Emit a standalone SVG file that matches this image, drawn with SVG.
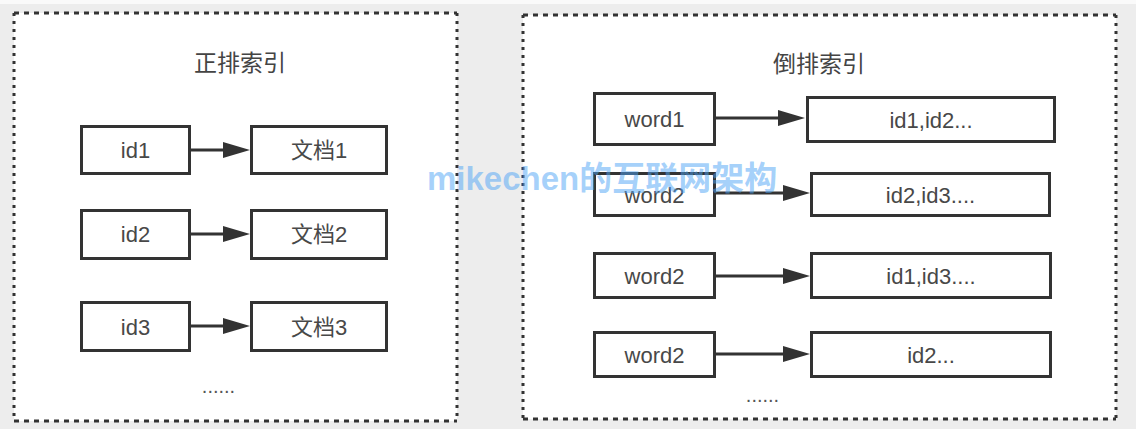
<svg xmlns="http://www.w3.org/2000/svg" width="1136" height="429" viewBox="0 0 1136 429">
<style>
.bg{fill:#ededed}
.panel{fill:#ffffff}
.hb{fill:none;stroke:#333;stroke-width:3;stroke-dasharray:5 5}
.vb{fill:none;stroke:#333;stroke-width:3;stroke-dasharray:3 5}
.box{fill:#ffffff;stroke:#333;stroke-width:3}
.lbl{font-family:"Liberation Sans","Noto Sans CJK SC",sans-serif;font-size:22px;fill:#484848;text-anchor:middle}
.title{font-family:"Liberation Sans","Noto Sans CJK SC",sans-serif;font-size:23px;fill:#444;text-anchor:middle}
.dots{font-family:"Liberation Sans",sans-serif;font-size:20px;fill:#555;text-anchor:middle}
.edge{stroke:#333;stroke-width:3;fill:none}
.wm{font-family:"Liberation Sans","Noto Sans CJK SC",sans-serif;font-size:33px;font-weight:bold;fill:#4da3f5;fill-opacity:0.5}
</style>
<defs>
<marker id="ah" markerUnits="userSpaceOnUse" markerWidth="28" markerHeight="18" refX="17" refY="8" orient="auto">
<path d="M0,0 L27,8 L0,16 z" fill="#333"/>
</marker>
</defs>
<rect class="bg" x="0" y="0" width="1136" height="429"/>
<rect x="0" y="0" width="1136" height="4" fill="#fafafa"/>

<g id="panel-forward">
<rect class="panel" x="14" y="13" width="443" height="408"/>
<path class="hb" d="M14,13 H457 M14,421 H457"/>
<path class="vb" d="M14,13 V421 M457,13 V421"/>
<text class="title" x="240" y="71">正排索引</text>
<text class="dots" x="218.5" y="393">......</text>
</g>

<g id="panel-inverted">
<rect class="panel" x="523" y="15" width="593" height="404"/>
<path class="hb" d="M523,15 H1116 M523,419 H1116"/>
<path class="vb" d="M523,15 V419 M1116,15 V419"/>
<text class="title" x="819" y="72">倒排索引</text>
<text class="dots" x="762.5" y="402">......</text>
</g>

<g id="connectors">
<line class="edge" x1="191" y1="150" x2="240" y2="150" marker-end="url(#ah)"/>
<line class="edge" x1="191" y1="234" x2="240" y2="234" marker-end="url(#ah)"/>
<line class="edge" x1="191" y1="326" x2="240" y2="326" marker-end="url(#ah)"/>
<line class="edge" x1="716" y1="118" x2="795" y2="118" marker-end="url(#ah)"/>
<line class="edge" x1="716" y1="193" x2="800" y2="193" marker-end="url(#ah)"/>
<line class="edge" x1="716" y1="276" x2="800" y2="276" marker-end="url(#ah)"/>
<line class="edge" x1="716" y1="354" x2="800" y2="354" marker-end="url(#ah)"/>
</g>

<g id="n-id1"><rect class="box" x="81.5" y="126.5" width="108" height="47"/><text class="lbl" x="135.5" y="158">id1</text></g>
<g id="n-doc1"><rect class="box" x="251.5" y="126.5" width="135" height="47"/><text class="lbl" x="319" y="158">文档1</text></g>
<g id="n-id2"><rect class="box" x="81.5" y="210.5" width="108" height="48"/><text class="lbl" x="135.5" y="242">id2</text></g>
<g id="n-doc2"><rect class="box" x="251.5" y="210.5" width="135" height="48"/><text class="lbl" x="319" y="242">文档2</text></g>
<g id="n-id3"><rect class="box" x="81.5" y="302.5" width="108" height="48"/><text class="lbl" x="135.5" y="334.5">id3</text></g>
<g id="n-doc3"><rect class="box" x="251.5" y="302.5" width="135" height="48"/><text class="lbl" x="319" y="334.5">文档3</text></g>

<g id="n-word1"><rect class="box" x="594.5" y="93.5" width="120" height="51"/><text class="lbl" x="654.5" y="127">word1</text></g>
<g id="n-list1"><rect class="box" x="807.5" y="97.5" width="247" height="44"/><text class="lbl" x="931" y="128">id1,id2...</text></g>
<g id="n-word2a"><rect class="box" x="594.5" y="173.5" width="120" height="42"/><text class="lbl" x="654.5" y="203">word2</text></g>
<g id="n-list2"><rect class="box" x="811.5" y="173.5" width="238" height="42"/><text class="lbl" x="930.5" y="203">id2,id3....</text></g>
<g id="n-word2b"><rect class="box" x="594.5" y="253.5" width="120" height="44"/><text class="lbl" x="654.5" y="284">word2</text></g>
<g id="n-list3"><rect class="box" x="811.5" y="253.5" width="239" height="44"/><text class="lbl" x="931" y="284">id1,id3....</text></g>
<g id="n-word2c"><rect class="box" x="594.5" y="332.5" width="120" height="44"/><text class="lbl" x="654.5" y="363">word2</text></g>
<g id="n-list4"><rect class="box" x="811.5" y="332.5" width="239" height="44"/><text class="lbl" x="931" y="363">id2...</text></g>

<text class="wm" x="427" y="190">mikechen的互联网架构</text>
</svg>
